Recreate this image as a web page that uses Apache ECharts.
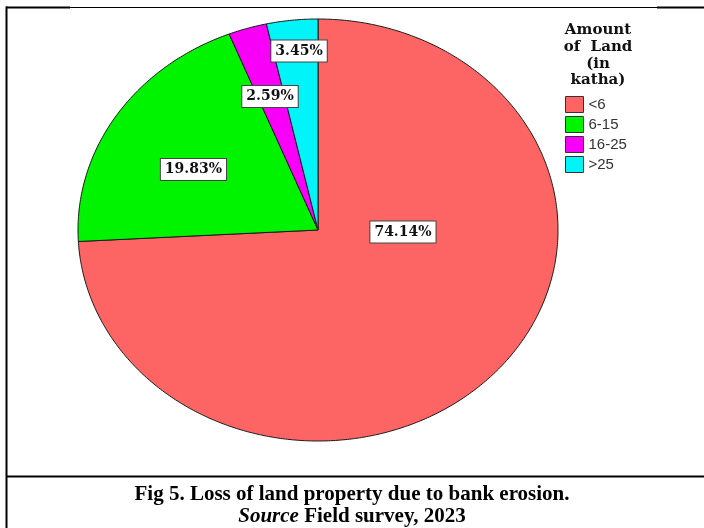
<!DOCTYPE html>
<html>
<head>
<meta charset="utf-8">
<title>Loss of land property due to bank erosion</title>
<script src="https://cdn.jsdelivr.net/npm/echarts@6/dist/echarts.min.js"></script>
<style>
  html, body { margin: 0; padding: 0; background: #fff; }
  #chart { width: 704px; height: 528px; }
</style>
</head>
<body>
<div id="chart"></div>
<script>
// data
const categories = ['<6', '6-15', '16-25', '>25']
const shares = [74.14, 19.83, 2.59, 3.45]
const legendTitle = 'Amount\nof  Land\n(in\nkatha)'
const captionLine1 = 'Fig 5. Loss of land property due to bank erosion.'
const captionSource = 'Source'
const captionRest = ' Field survey, 2023'

// styling / layout
const sliceColors = ['#fd6464', '#00f400', '#f800f8', '#00f4f8']
const cx = 318, cy = 230, rx = 240, ry = 211 // the pie is drawn as an ellipse (like SPSS)
// where each percentage box sits, relative to the ellipse radii
const labelSpots = [[0.354, 0.01], [-0.519, -0.287], [-0.2, -0.633], [-0.079, -0.848]]

const total = shares.reduce((a, b) => a + b, 0)

function renderSlice(params, api) {
  const i = params.seriesIndex
  let before = 0
  for (let k = 0; k < i; k++) before += shares[k]
  const v = api.value(0)
  const a0 = before / total * Math.PI * 2
  const a1 = (before + v) / total * Math.PI * 2
  const pts = [[cx, cy]]
  const n = Math.max(2, Math.ceil((a1 - a0) / 0.01))
  for (let j = 0; j <= n; j++) {
    const a = a0 + (a1 - a0) * j / n
    pts.push([cx + rx * Math.sin(a), cy - ry * Math.cos(a)])
  }
  const spot = labelSpots[i]
  return {
    type: 'group',
    children: [
      {
        type: 'polygon',
        shape: { points: pts },
        style: { fill: api.visual('color'), stroke: '#1a1a1a', lineWidth: 1 }
      },
      {
        type: 'text',
        x: cx + spot[0] * rx,
        y: cy + spot[1] * ry,
        z2: 10,
        style: {
          text: v.toFixed(2) + '%',
          fill: '#111',
          font: 'bold 14px "DejaVu Serif"',
          align: 'center',
          verticalAlign: 'middle',
          backgroundColor: '#fff',
          borderColor: '#444',
          borderWidth: 1,
          padding: [4, 4, 3, 4]
        }
      }
    ]
  }
}

const chart = echarts.init(document.getElementById('chart'))
chart.setOption({
  animation: false,
  backgroundColor: '#fff',
  legend: {
    orient: 'vertical',
    left: 565,
    top: 96,
    padding: 0,
    itemGap: 3,
    itemWidth: 18,
    itemHeight: 16,
    icon: 'rect',
    selectedMode: false,
    itemStyle: { borderColor: '#333', borderWidth: 1 },
    textStyle: { fontFamily: 'Liberation Sans', fontSize: 15, color: '#333' },
    data: categories
  },
  series: categories.map((name, i) => ({
    type: 'custom',
    name: name,
    coordinateSystem: 'none',
    itemStyle: { color: sliceColors[i] },
    renderItem: renderSlice,
    data: [shares[i]]
  })),
  graphic: [
    // frame lines
    { type: 'line', shape: { x1: 6, y1: 7.5, x2: 704, y2: 7.5 }, style: { stroke: '#000', lineWidth: 1 } },
    { type: 'line', shape: { x1: 6, y1: 7.5, x2: 70, y2: 7.5 }, style: { stroke: '#000', lineWidth: 2 } },
    { type: 'line', shape: { x1: 657, y1: 7.5, x2: 704, y2: 7.5 }, style: { stroke: '#000', lineWidth: 2 } },
    { type: 'line', shape: { x1: 6.5, y1: 6.5, x2: 6.5, y2: 528 }, style: { stroke: '#000', lineWidth: 2 } },
    { type: 'line', shape: { x1: 6, y1: 476.5, x2: 704, y2: 476.5 }, style: { stroke: '#000', lineWidth: 2 } },
    // legend title
    {
      type: 'text', x: 598, y: 22,
      style: {
        text: legendTitle,
        font: 'bold 15px "DejaVu Serif"',
        lineHeight: 16.7,
        fill: '#111',
        align: 'center',
        verticalAlign: 'top'
      }
    },
    // caption
    {
      type: 'text', x: 352, y: 495,
      style: {
        text: captionLine1,
        font: 'bold 21px "Liberation Serif"',
        fill: '#000',
        align: 'center',
        verticalAlign: 'middle'
      }
    },
    {
      type: 'text', x: 352, y: 517,
      style: {
        text: '{i|' + captionSource + '}{b|' + captionRest + '}',
        fill: '#000',
        align: 'center',
        verticalAlign: 'middle',
        rich: {
          i: { fontStyle: 'italic', fontWeight: 'bold', fontSize: 21, fontFamily: 'Liberation Serif', fill: '#000' },
          b: { fontWeight: 'bold', fontSize: 21, fontFamily: 'Liberation Serif', fill: '#000' }
        }
      }
    }
  ]
})
</script>
</body>
</html>
